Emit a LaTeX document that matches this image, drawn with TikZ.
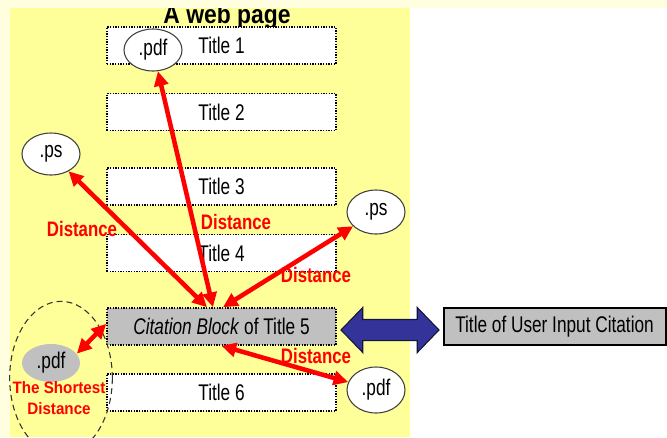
\documentclass[tikz,border=0pt]{standalone}
\usepackage{fontspec}
\setmainfont{Liberation Sans}
\usepackage{graphicx}
\usetikzlibrary{shapes.geometric,shapes.arrows,arrows.meta}

\definecolor{pagebg}{RGB}{255,255,224}
\definecolor{pageyellow}{RGB}{255,255,153}
\definecolor{linkblue}{RGB}{51,51,153}
\definecolor{blockgray}{RGB}{192,192,192}

% narrow text, squeezed sideways
\newcommand{\nar}[2][0.78]{\scalebox{#1}[1]{#2}}

\tikzset{
  titlebox/.style={draw, line width=1.2pt, dash pattern=on 1pt off 1pt, fill=white,
    minimum width=171.75pt, minimum height=27.75pt, inner sep=0pt,
    font=\fontsize{17}{19}\selectfont},
  doc/.style={ellipse, draw=black!75, line width=0.8pt, fill=white,
    minimum width=43.5pt, minimum height=31.5pt, inner sep=0pt,
    font=\fontsize{17}{19}\selectfont},
  dist/.style={red, line width=3.4pt,
    {Triangle[length=11pt,width=10.5pt]}-{Triangle[length=11pt,width=10.5pt]}},
  distlabel/.style={text=red, inner sep=0pt, font=\bfseries\fontsize{15.75}{18}\selectfont},
}

\begin{document}
\begin{tikzpicture}[x=0.75pt,y=0.75pt,yscale=-1,xscale=1]
\useasboundingbox (0,0) rectangle (667,437);

% Page background
\fill[pagebg] (0,0) rectangle (667,437);
\fill[white] (410,8) rectangle (667,437);
\fill[pageyellow] (10,8) rectangle (410,437);

% Text Node
\node[anchor=base, inner sep=0pt, font=\bfseries\fontsize{19.5}{22}\selectfont] (pagetitle) at (227,23) {\nar[0.88]{A web page}};
\fill[pagebg] (0,0) rectangle (667,8);

% Title blocks
\node[titlebox] (t1) at (221.5,45.5) {\nar[0.76]{Title 1}};
\node[titlebox] (t2) at (221.5,112) {\nar[0.76]{Title 2}};
\node[titlebox] (t3) at (221.5,186.5) {\nar[0.76]{Title 3}};
\node[titlebox] (t4) at (221.5,253) {\nar[0.76]{Title 4}};
\node[titlebox, fill=blockgray] (cite) at (221.5,326.5) {\nar[0.76]{\textit{Citation Block} of Title 5}};
\node[titlebox] (t6) at (221.5,392.5) {\nar[0.76]{Title 6}};

%Shape: Ellipse
\node[ellipse, draw=black!80, line width=0.8pt, dash pattern=on 4.5pt off 3pt,
  minimum width=77pt, minimum height=115pt] (near) at (61,378) {};

% Documents
\node[doc] (pdfA) at (153,50) {\nar[0.76]{.pdf}};
\node[doc] (psL) at (51,154) {\nar[0.76]{.ps}};
\node[doc, minimum height=33pt] (psR) at (376,212) {\nar[0.76]{.ps}};
\node[doc, draw=none, fill=blockgray, minimum height=28.5pt] (pdfD) at (51,363) {\nar[0.76]{.pdf}};
\node[doc, minimum height=34.5pt] (pdfE) at (376,390) {\nar[0.76]{.pdf}};

% Text Node
\node[distlabel] (dl1) at (82,229) {\nar[0.8]{Distance}};
\node[distlabel] (dl2) at (236,222) {\nar[0.8]{Distance}};
\node[distlabel] (dl3) at (316,275) {\nar[0.8]{Distance}};
\node[distlabel] (dl4) at (316,356) {\nar[0.8]{Distance}};
\node[text=red, inner sep=0pt, align=center, font=\bfseries\fontsize{12.4}{15.75}\selectfont] (short) at (59,398)
  {\nar[0.92]{The Shortest}\\\nar[0.92]{Distance}};

%Straight Lines
\draw[dist] ([xshift=-6.4pt]cite.north) -- (pdfA);
\draw[dist] ([xshift=-10.9pt]cite.north) -- (psL);
\draw[dist] ([xshift=1.1pt]cite.north) -- (psR);
\draw[dist] (cite.south) -- (pdfE);
\draw[dist] ([yshift=-2pt]cite.west) -- (pdfD.20);

%Shape: Double Arrow
\node[double arrow, draw=black!60!linkblue, fill=linkblue, line width=0.8pt,
  minimum height=73.5pt, inner xsep=0pt, inner ysep=7.5pt,
  double arrow head extend=9pt, double arrow tip angle=92] (link) at (390,330) {};

% Text Node
\node[draw, line width=1.5pt, fill=blockgray, minimum width=166.5pt, minimum height=27.75pt,
  font=\fontsize{17}{19}\selectfont] (user) at (554.5,326.5) {\nar[0.76]{Title of User Input Citation}};

\end{tikzpicture}
\end{document}
